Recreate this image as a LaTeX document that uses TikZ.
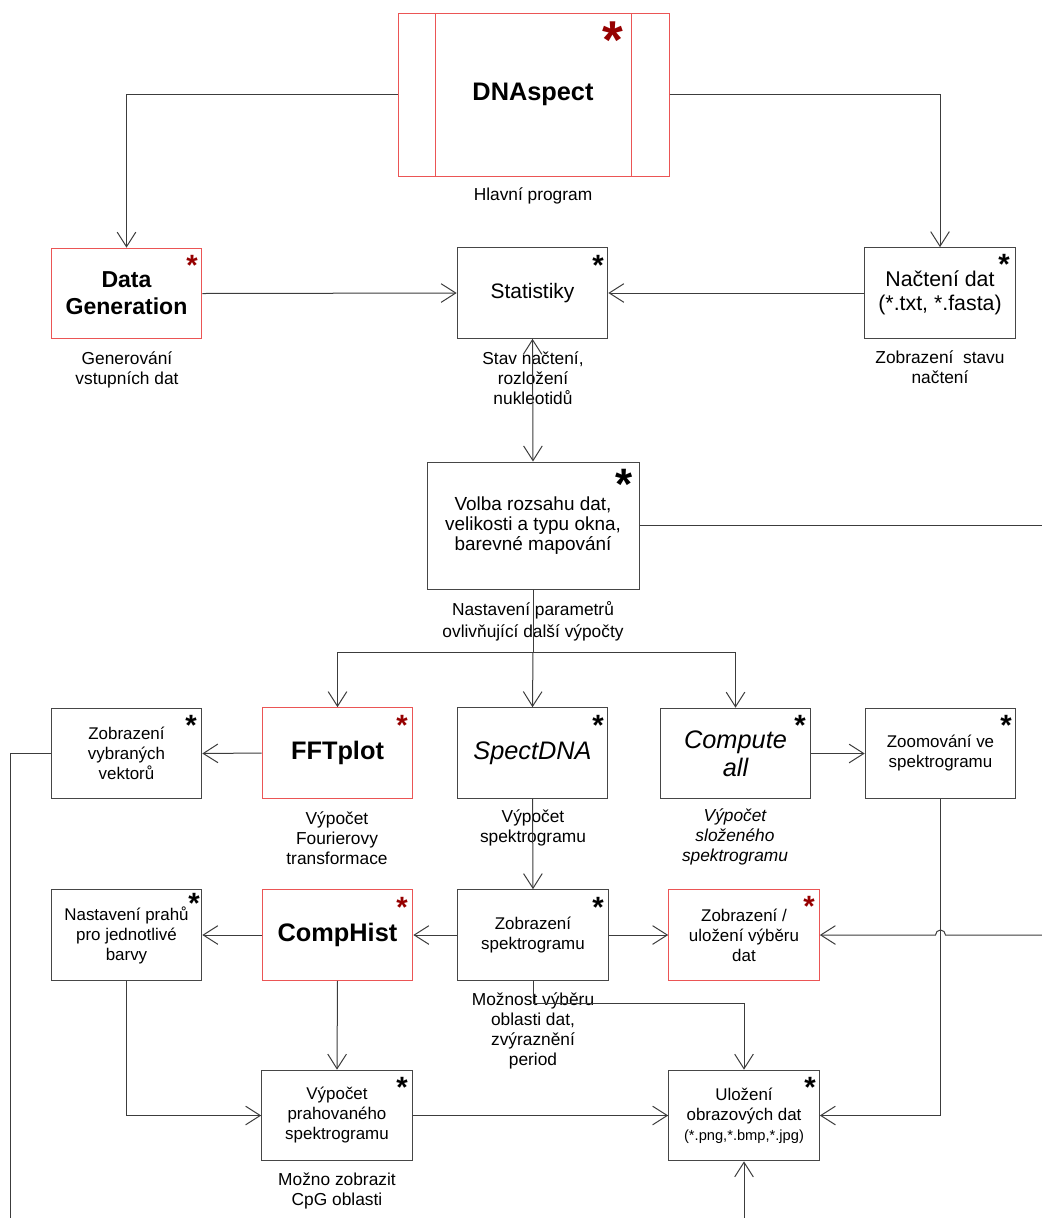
\documentclass[tikz,border=0pt]{standalone}
\usepackage{fontspec}
\setmainfont{Liberation Sans}
\usetikzlibrary{arrows.meta}
\definecolor{boxc}{RGB}{70,70,70}
\definecolor{linec}{RGB}{60,60,60}
\definecolor{redb}{RGB}{235,85,85}
\definecolor{reds}{RGB}{150,0,0}
\begin{document}
\begin{tikzpicture}[x=0.75pt,y=-0.75pt,
  box/.style={draw=boxc, line width=0.75pt, minimum width=113pt, minimum height=68pt, align=center, inner sep=0pt, font=\fontsize{12.7}{15}\selectfont},
  redbox/.style={box, draw=redb},
  lbl/.style={align=center, inner sep=0pt, font=\fontsize{13}{15}\selectfont},
  conn/.style={draw=linec, line width=0.75pt},
  arr/.style={conn, -{Straight Barb[length=11pt,width=14pt]}},
  biarr/.style={conn, {Straight Barb[length=11pt,width=14pt]}-{Straight Barb[length=11pt,width=14pt]}},
  bstar/.style={inner sep=0pt, anchor=north, font=\fontsize{22}{22}\selectfont\bfseries},
  rstar/.style={bstar, text=reds},
]
\useasboundingbox (0,0) rectangle (1042,1218);

% main program
\node[draw=redb, line width=0.75pt, minimum width=203.25pt, minimum height=122.25pt, inner sep=0pt] (dna) at (533.5,94.5) {};
\node[draw=redb, line width=0.75pt, minimum width=147pt, minimum height=122.25pt, inner sep=0pt, font=\fontsize{19}{22}\selectfont\bfseries] (dnain) at (533,94.5) {DNAspect};
\node[rstar, font=\fontsize{40}{40}\selectfont\bfseries] (s_dna) at (613,22) {*};
\node[lbl] (l_dna) at (533,196) {Hlavní program};

% row 1
\node[redbox, font=\fontsize{17.3}{20.5}\selectfont\bfseries] (gen) at (126.5,293.5) {Data\\Generation};
\node[rstar] (s_gen) at (192,255) {*};
\node[lbl] (l_gen) at (127,370) {Generování\\vstupních dat};

\node[box, font=\fontsize{15.7}{18}\selectfont] (stat) at (532.5,293) {Statistiky};
\node[bstar] (s_stat) at (598,255) {*};
\node[lbl] (l_stat) at (533,378) {Stav načtení,\\rozložení\\nukleotidů};

\node[box, font=\fontsize{16}{17.5}\selectfont] (nac) at (940,293) {Načtení dat\\(*.txt, *.fasta)};
\node[bstar] (s_nac) at (1004,254) {*};
\node[lbl] (l_nac) at (940,367) {Zobrazení\ \ stavu\\načtení};

% parameters
\node[box, minimum width=159pt, minimum height=95.25pt, font=\fontsize{14.2}{15}\selectfont] (volba) at (533,525.5) {Volba rozsahu dat,\\velikosti a typu okna,\\barevné mapování};
\node[bstar, font=\fontsize{33}{33}\selectfont\bfseries] (s_volba) at (624,469) {*};
\node[lbl, font=\fontsize{13}{16.7}\selectfont] (l_volba) at (533,621) {Nastavení parametrů\\ovlivňující další výpočty};

% row 2
\node[box] (zobvek) at (126.5,753.5) {Zobrazení\\vybraných\\vektorů};
\node[bstar] (s_zobvek) at (191,715) {*};
\node[redbox, font=\fontsize{19}{22}\selectfont\bfseries] (fft) at (337.5,753) {FFTplot};
\node[rstar] (s_fft) at (402,715) {*};
\node[lbl] (l_fft) at (337,838) {Výpočet\\Fourierovy\\transformace};
\node[box, font=\fontsize{19}{22}\selectfont\itshape] (spect) at (532.5,753) {SpectDNA};
\node[bstar] (s_spect) at (598,715) {*};
\node[lbl] (l_spect) at (533,828) {Výpočet\\spektrogramu};
\node[box, font=\fontsize{19}{21}\selectfont\itshape] (comp) at (735.5,753.5) {Compute\\all};
\node[bstar] (s_comp) at (800,715) {*};
\node[lbl, font=\fontsize{13}{15}\selectfont\itshape] (l_comp) at (735,837) {Výpočet\\složeného\\spektrogramu};
\node[box] (zoom) at (940.5,753.5) {Zoomování ve\\spektrogramu};
\node[bstar] (s_zoom) at (1006,715) {*};

% row 3
\node[box] (prahy) at (126.5,935) {Nastavení prahů\\pro jednotlivé\\barvy};
\node[bstar] (s_prahy) at (194,893) {*};
\node[redbox, font=\fontsize{19}{22}\selectfont\bfseries] (hist) at (337.5,935) {CompHist};
\node[rstar] (s_hist) at (402,897) {*};
\node[box] (zobsp) at (533,935) {Zobrazení\\spektrogramu};
\node[bstar] (s_zobsp) at (598,897) {*};
\node[lbl] (l_zobsp) at (533,1031) {Možnost výběru\\oblasti dat,\\zvýraznění\\period};
\node[redbox] (zobul) at (744,935) {Zobrazení /\\uložení výběru\\dat};
\node[rstar] (s_zobul) at (809,896) {*};

% row 4
\node[box] (vyppr) at (337,1115.5) {Výpočet\\prahovaného\\spektrogramu};
\node[bstar] (s_vyppr) at (402,1077) {*};
\node[lbl] (l_vyppr) at (337,1191) {Možno zobrazit\\CpG oblasti};
\node[box] (uloz) at (744,1115.5) {Uložení\\obrazových dat\\{\fontsize{11}{13}\selectfont(*.png,*.bmp,*.jpg)}};
\node[bstar] (s_uloz) at (810,1077) {*};

% connectors
\draw[arr] (dna.west) -| (gen.north);
\draw[arr] (dna.east) -| (nac.north);
\draw[arr] (gen.east) -- (stat.west);
\draw[arr] (nac.west) -- (stat.east);
\draw[biarr] (stat.south) -- (volba.north);
\coordinate (redge1) at (1042,525.5);
\draw[conn] (volba.east) -- (redge1);
\coordinate (split) at (533,652);
\draw[conn] (volba.south) -- (split);
\draw[arr] (split) -| (fft.north);
\draw[arr] (split) -- (spect.north);
\draw[arr] (split) -| (comp.north);
\draw[arr] (fft.west) -- (zobvek.east);
\draw[arr] (comp.east) -- (zoom.west);
\coordinate (ledge) at (10,1218);
\draw[conn] (zobvek.west) -| (ledge);
\draw[arr] (spect.south) -- (zobsp.north);
\draw[arr] (zobsp.west) -- (hist.east);
\draw[arr] (hist.west) -- (prahy.east);
\draw[arr] (zobsp.east) -- (zobul.west);
\draw[arr] (hist.south) -- (vyppr.north);
\draw[arr] (prahy.south) |- (vyppr.west);
\draw[arr] (vyppr.east) -- (uloz.west);
\draw[arr] (zoom.south) |- (uloz.east);
\coordinate (zsb) at (533,1003);
\draw[arr] (zobsp.south) -- (zsb) -| (uloz.north);
\coordinate (bedge) at (744,1218);
\draw[arr] (bedge) -- (uloz.south);
\coordinate (redge2) at (1042,935);
\coordinate (hopr) at (945.5,935);
\draw[arr] (redge2) -- (hopr) arc[start angle=0, end angle=180, radius=3.75pt] -- (zobul.east);
\end{tikzpicture}
\end{document}
